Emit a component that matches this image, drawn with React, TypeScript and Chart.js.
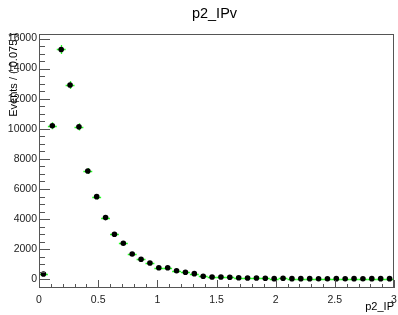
import React, { useEffect, useRef } from "react";
import { Chart, registerables } from "chart.js";

Chart.register(...registerables);

const binCenters = [
  0.0375, 0.1125, 0.1875, 0.2625, 0.3375, 0.4125, 0.4875, 0.5625, 0.6375, 0.7125,
  0.7875, 0.8625, 0.9375, 1.0125, 1.0875, 1.1625, 1.2375, 1.3125, 1.3875, 1.4625,
  1.5375, 1.6125, 1.6875, 1.7625, 1.8375, 1.9125, 1.9875, 2.0625, 2.1375, 2.2125,
  2.2875, 2.3625, 2.4375, 2.5125, 2.5875, 2.6625, 2.7375, 2.8125, 2.8875, 2.9625,
];
const events = [
  350, 10200, 15270, 12910, 10130, 7200, 5490, 4100, 2990, 2390,
  1680, 1330, 1080, 770, 770, 570, 465, 373, 200, 153,
  153, 133, 106, 86, 86, 66, 40, 66, 40, 40,
  40, 30, 30, 40, 30, 40, 30, 40, 40, 40,
];
const eventErrors = [
  60, 230, 300, 270, 240, 200, 175, 150, 130, 115,
  95, 85, 75, 60, 60, 50, 45, 40, 30, 28,
  28, 25, 22, 20, 20, 18, 15, 18, 15, 15,
  15, 13, 13, 15, 13, 15, 13, 15, 15, 15,
];
const binHalfWidth = 0.0375;
const xTickLabels = ["0", "0.5", "1", "1.5", "2", "2.5", "3"];
const yTickLabels = ["0", "2000", "4000", "6000", "8000", "10000", "12000", "14000", "16000"];
const titleText = "p2_IPv";
const xTitleText = "p2_IP";
const yTitleText = "Events / ( 0.075 )";

const FONT = "'Liberation Sans', Arial, Helvetica, sans-serif";
const AXIS_COLOR = "#555";

export default function App() {
  const ref = useRef<HTMLCanvasElement>(null);

  useEffect(() => {
    document.body.style.margin = "0";
    const rootStyle = {
      id: "rootStyle",
      beforeDatasetsDraw(chart: any) {
        const ctx = chart.ctx;
        const xs = chart.scales.x;
        const ys = chart.scales.y;
        ctx.save();
        ctx.strokeStyle = "#22ff22";
        ctx.lineWidth = 1.3;
        binCenters.forEach((c, i) => {
          const px = xs.getPixelForValue(c);
          const py = ys.getPixelForValue(events[i]);
          const x0 = xs.getPixelForValue(c - binHalfWidth);
          const x1 = xs.getPixelForValue(c + binHalfWidth);
          const y0 = ys.getPixelForValue(events[i] - eventErrors[i]);
          const y1 = ys.getPixelForValue(events[i] + eventErrors[i]);
          ctx.beginPath();
          ctx.moveTo(x0, Math.round(py) + 0.5);
          ctx.lineTo(x1, Math.round(py) + 0.5);
          ctx.moveTo(Math.round(px) + 0.5, y0);
          ctx.lineTo(Math.round(px) + 0.5, y1);
          ctx.stroke();
        });
        ctx.restore();
      },
      afterDraw(chart: any) {
        const ctx = chart.ctx;
        const a = chart.chartArea;
        const xs = chart.scales.x;
        const ys = chart.scales.y;
        ctx.save();
        ctx.strokeStyle = AXIS_COLOR;
        ctx.lineWidth = 1;
        ctx.strokeRect(Math.round(a.left) + 0.5, Math.round(a.top) + 0.5,
          Math.round(a.right - a.left) - 1, Math.round(a.bottom - a.top) - 1);
        ctx.beginPath();
        for (let i = 0; i <= 30; i++) {
          const v = i * 0.1;
          const px = Math.round(xs.getPixelForValue(v)) + 0.5;
          const len = i % 5 === 0 ? 8 : 4;
          ctx.moveTo(px, a.bottom);
          ctx.lineTo(px, a.bottom - len);
        }
        for (let v = -500; v <= ys.max; v += 500) {
          const py = Math.round(ys.getPixelForValue(v)) + 0.5;
          const len = v % 2000 === 0 ? 11 : 6;
          ctx.moveTo(a.left, py);
          ctx.lineTo(a.left + len, py);
        }
        ctx.stroke();

        ctx.fillStyle = "#000";
        ctx.font = `14.5px ${FONT}`;
        ctx.textAlign = "center";
        ctx.textBaseline = "middle";
        ctx.fillText(titleText, 214.5, 14);

        ctx.font = `11px ${FONT}`;
        ctx.textAlign = "right";
        ctx.textBaseline = "alphabetic";
        ctx.fillText(xTitleText, a.right, 310);

        ctx.translate(16.5, a.top - 1);
        ctx.rotate(-Math.PI / 2);
        ctx.textAlign = "right";
        ctx.textBaseline = "alphabetic";
        ctx.fillText(yTitleText, 0, 0);
        ctx.restore();
      },
    };

    const chart = new Chart(ref.current as HTMLCanvasElement, {
      type: "scatter",
      data: {
        datasets: [
          {
            data: binCenters.map((x, i) => ({ x, y: events[i] })),
            pointRadius: 2.8,
            pointBackgroundColor: "#000",
            pointBorderWidth: 0,
            showLine: false,
          },
        ],
      },
      options: {
        animation: false,
        responsive: false,
        events: [],
        layout: { padding: { top: 34, right: 1, left: 0, bottom: 0 } },
        plugins: {
          legend: { display: false },
          tooltip: { enabled: false },
          title: { display: false },
        },
        scales: {
          x: {
            type: "linear",
            min: 0,
            max: 3,
            grid: { display: false, drawTicks: false },
            border: { display: false },
            ticks: {
              font: { family: FONT, size: 10.5 },
              color: "#222",
              padding: 6,
              maxRotation: 0,
              autoSkip: false,
              callback: (_v: any, i: number) => xTickLabels[i],
            },
            afterBuildTicks: (s: any) => {
              s.ticks = xTickLabels.map((l) => ({ value: parseFloat(l) }));
            },
            afterFit: (s: any) => {
              s.height = 27;
              s.paddingLeft = 0;
              s.paddingRight = 0;
            },
          },
          y: {
            type: "linear",
            min: -580,
            max: 16300,
            grid: { display: false, drawTicks: false },
            border: { display: false },
            ticks: {
              font: { family: FONT, size: 10.5 },
              color: "#222",
              padding: 2,
              autoSkip: false,
              callback: (_v: any, i: number) => yTickLabels[i],
            },
            afterBuildTicks: (s: any) => {
              s.ticks = yTickLabels.map((l) => ({ value: parseFloat(l) }));
            },
            afterFit: (s: any) => {
              s.width = 39;
              s.paddingTop = 0;
              s.paddingBottom = 0;
            },
          },
        },
      },
      plugins: [rootStyle],
    } as any);
    return () => chart.destroy();
  }, []);

  return <canvas ref={ref} width={398} height={315} style={{ display: "block" }} />;
}
